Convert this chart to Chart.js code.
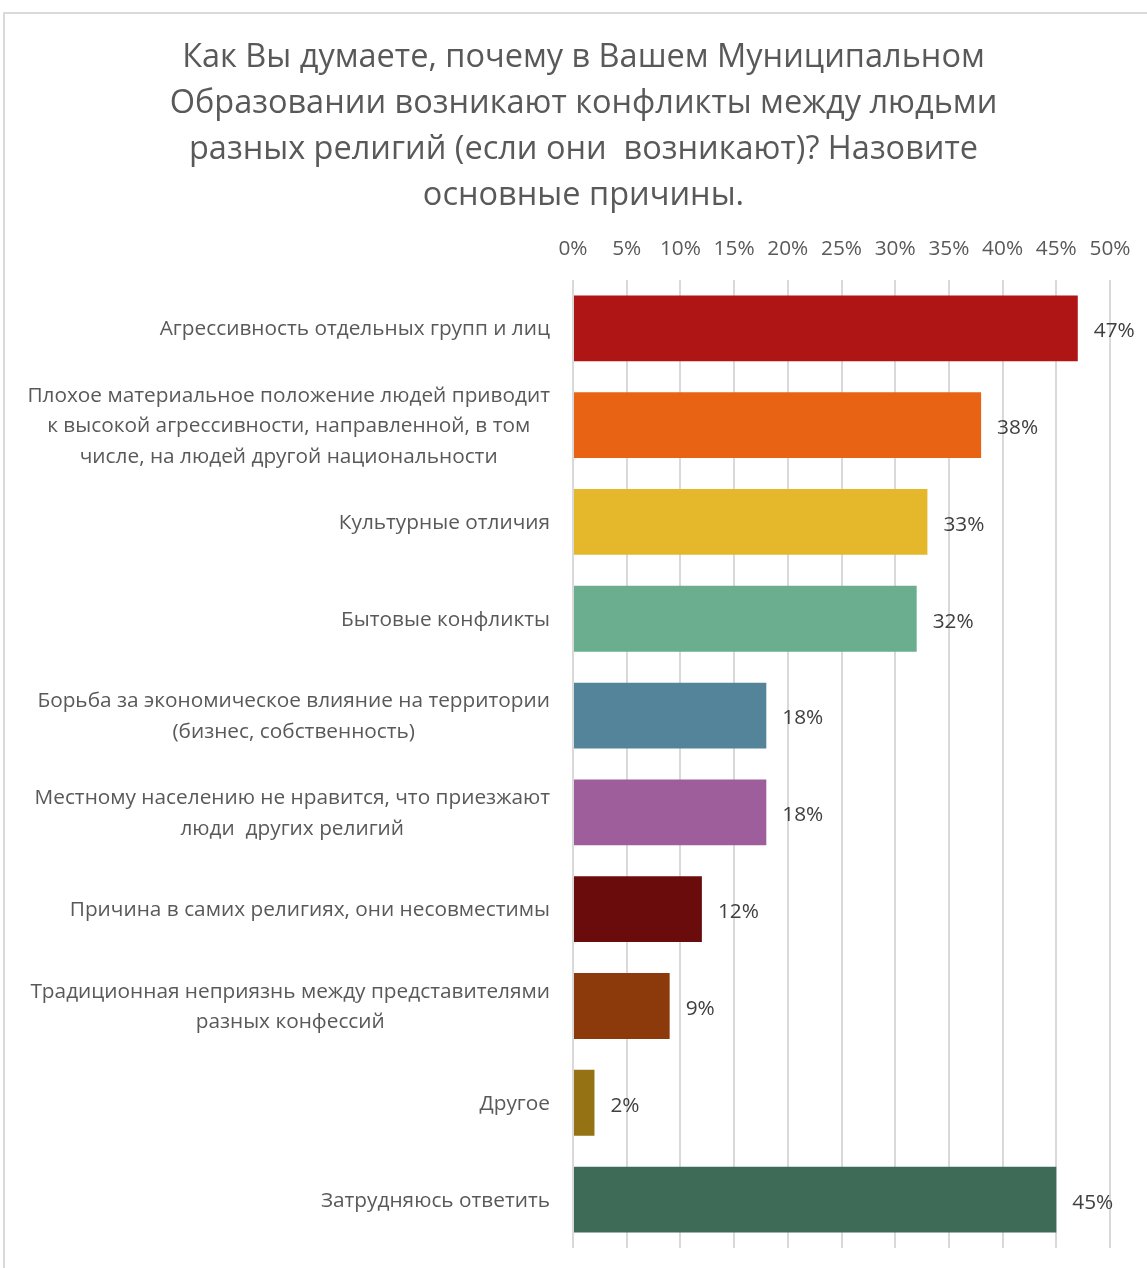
<!DOCTYPE html>
<html>
<head>
<meta charset="utf-8">
<script src="https://cdn.jsdelivr.net/npm/chart.js@4.4.1/dist/chart.umd.min.js"></script>
<style>
  html, body { margin: 0; padding: 0; background: #fff; overflow: hidden; }
  #frame { position: absolute; left: 3px; top: 12px; width: 1200px; height: 1300px;
           border-left: 2px solid #dadada; border-top: 2px solid #dadada; }
  #wrap { position: absolute; left: 0; top: 0; width: 1167px; height: 1268px; }
</style>
</head>
<body>
<div id="frame"></div>
<div id="wrap"><canvas id="graph"></canvas></div>
<script>
var categories = [
  'Агрессивность отдельных групп и лиц',
  ['Плохое материальное положение людей приводит', 'к высокой агрессивности, направленной, в том', 'числе, на людей другой национальности'],
  'Культурные отличия',
  'Бытовые конфликты',
  ['Борьба за экономическое влияние на территории', '(бизнес, собственность)'],
  ['Местному населению не нравится, что приезжают', 'люди  других религий'],
  'Причина в самих религиях, они несовместимы',
  ['Традиционная неприязнь между представителями', 'разных конфессий'],
  'Другое',
  'Затрудняюсь ответить'
];
var values = [47, 38, 33, 32, 18, 18, 12, 9, 2, 45];
var colors = ['#b01515', '#e86414', '#e5b72b', '#6aae8f', '#538499', '#9e5e9c', '#6b0c0c', '#8c3a0b', '#957314', '#3d6b57'];
var titleLines = [
  'Как Вы думаете, почему в Вашем Муниципальном',
  'Образовании возникают конфликты между людьми',
  'разных религий (если они  возникают)? Назовите',
  'основные причины.'
];

var FONT = '"Open Sans", "Noto Sans", sans-serif';
var FS = 20.8;

// category labels: each line centred within its block, block right-aligned
var catLabels = {
  id: 'catLabels',
  afterDraw: function(chart) {
    var ctx = chart.ctx;
    var y = chart.scales.y;
    var right = chart.chartArea.left - 23;
    ctx.save();
    ctx.font = FS + 'px ' + FONT;
    ctx.fillStyle = '#595959';
    ctx.textAlign = 'center';
    ctx.textBaseline = 'middle';
    categories.forEach(function(c, i) {
      var lines = Array.isArray(c) ? c : [c];
      var w = 0;
      lines.forEach(function(l) { w = Math.max(w, ctx.measureText(l).width); });
      var cy = y.getPixelForValue(i) + 1;
      var lh = 30.5;
      lines.forEach(function(l, k) {
        ctx.fillText(l, right - w / 2, cy + (k - (lines.length - 1) / 2) * lh);
      });
    });
    ctx.restore();
  }
};

// value labels at the end of each bar
var valueLabels = {
  id: 'valueLabels',
  afterDatasetsDraw: function(chart) {
    var ctx = chart.ctx;
    var meta = chart.getDatasetMeta(0);
    ctx.save();
    ctx.font = FS + 'px ' + FONT;
    ctx.fillStyle = '#404040';
    ctx.textAlign = 'left';
    ctx.textBaseline = 'middle';
    meta.data.forEach(function(bar, i) {
      ctx.fillText(values[i] + '%', bar.x + 16, bar.y + 3);
    });
    ctx.restore();
  }
};

new Chart(document.getElementById('graph'), {
  type: 'bar',
  data: {
    labels: categories,
    datasets: [{
      data: values,
      backgroundColor: colors,
      barPercentage: 0.68,
      categoryPercentage: 1
    }]
  },
  options: {
    indexAxis: 'y',
    responsive: true,
    maintainAspectRatio: false,
    animation: false,
    layout: { padding: { top: 35, right: 57, bottom: 20, left: 57 } },
    plugins: {
      legend: { display: false },
      tooltip: { enabled: false },
      title: {
        display: true,
        text: titleLines,
        color: '#595959',
        font: { family: FONT, size: 32.5, weight: 'normal', lineHeight: 1.415 },
        padding: { top: 0, bottom: 0 }
      }
    },
    scales: {
      x: {
        position: 'top',
        min: 0,
        max: 50,
        ticks: {
          stepSize: 5,
          color: '#595959',
          font: { family: FONT, size: FS },
          padding: 18,
          callback: function(v) { return v + '%'; }
        },
        grid: { color: '#d9d9d9', lineWidth: 2, drawTicks: false },
        border: { display: false }
      },
      y: {
        ticks: { display: false },
        grid: { display: false },
        border: { display: false },
        afterFit: function(scale) { scale.width = 516; }
      }
    }
  },
  plugins: [catLabels, valueLabels]
});
</script>
</body>
</html>
